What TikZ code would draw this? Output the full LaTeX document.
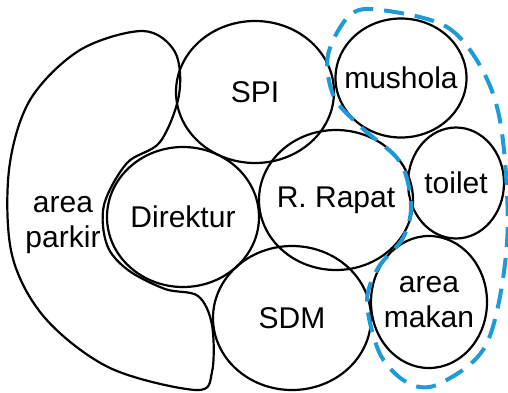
\documentclass[tikz,border=0pt]{standalone}
\usepackage{fontspec}
\setmainfont{Liberation Sans}
\usetikzlibrary{shapes.geometric}
\usepackage{xcolor}
\definecolor{zoneblue}{HTML}{1E9BD7}

\begin{document}
\begin{tikzpicture}[x=1pt, y=-1pt,
    roomtext/.style={align=center, inner sep=0pt, font=\fontsize{30}{35}\selectfont},
    room/.style={draw=black, line width=2.2pt, ellipse, inner sep=0pt}]
  \useasboundingbox (0,0) rectangle (508,392);
  \draw[line width=2.2pt] plot[smooth cycle, tension=0.55] coordinates {
      (143,31) (175,52) (179,95) (160,142) (127,163) (104,205) (107,245)
      (128,270) (165,289) (198,296) (212,325) (212,372) (196,390)
      (110,368) (45,318) (12,255) (9,170) (30,100) (80,50)};
  \node[roomtext] (parkir) at (63,225) {area\\parkir};
  \node[room, minimum width=158pt, minimum height=142pt,
        label={[roomtext]center:SPI}] (spi) at (255,92) {};
  \node[room, minimum width=131pt, minimum height=119pt,
        label={[roomtext]center:mushola}] (mushola) at (401,78) {};
  \node[room, minimum width=152pt, minimum height=140pt,
        label={[roomtext]center:Direktur}] (direktur) at (183,217) {};
  \node[room, minimum width=154pt, minimum height=140pt,
        label={[roomtext]center:R. Rapat}] (rapat) at (336,200) {};
  \node[room, minimum width=96pt, minimum height=111pt,
        label={[roomtext]center:toilet}] (toilet) at (456,183) {};
  \node[room, minimum width=158pt, minimum height=144pt,
        label={[roomtext]center:SDM}] (sdm) at (292,318) {};
  \node[room, minimum width=116pt, minimum height=132pt,
        label={[roomtext]center:area\\makan}] (makan) at (429,302) {};
  \draw[zoneblue, line width=4pt, dash pattern=on 20pt off 11pt]
    plot[smooth cycle, tension=0.55] coordinates {
      (381,10) (447,27) (484,73) (502,133) (507,243) (487,343) (441,383)
      (410,384) (381,356) (367,303) (378,268) (403,238) (411,205) (400,162)
      (361,127) (334,97) (328,55) (350,15)};
\end{tikzpicture}
\end{document}
